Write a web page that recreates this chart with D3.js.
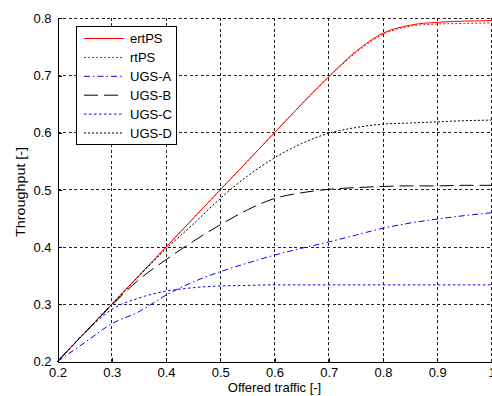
<!DOCTYPE html>
<html>
<head>
<meta charset="utf-8">
<script src="https://cdn.jsdelivr.net/npm/d3@7"></script>
<style>
  html, body { margin: 0; padding: 0; background: #fff; }
  svg { display: block; font-family: "Liberation Sans", Arial, sans-serif; }
</style>
</head>
<body>
<svg id="chart" width="492" height="396"></svg>
<script>
// ---- data ----
const offered = [0.2,0.25,0.3,0.35,0.4,0.45,0.5,0.55,0.6,0.65,0.7,0.75,0.8,0.85,0.9,0.95,1.0];
const ertPS = [0.2,0.25,0.3,0.35,0.4,0.45,0.5,0.55,0.6,0.65,0.698,0.742,0.774,0.788,0.793,0.795,0.796];
const rtPS  = [0.2,0.25,0.3,0.35,0.4,0.45,0.5,0.55,0.6,0.65,0.697,0.740,0.772,0.786,0.790,0.791,0.792];
const ugsA  = [0.2,0.233,0.266,0.287,0.316,0.339,0.357,0.372,0.386,0.398,0.409,0.421,0.433,0.442,0.449,0.455,0.46];
const ugsB  = [0.2,0.25,0.298,0.343,0.378,0.41,0.439,0.465,0.485,0.495,0.501,0.504,0.506,0.507,0.507,0.508,0.508];
const ugsC  = [0.2,0.25,0.291,0.311,0.323,0.329,0.332,0.333,0.334,0.334,0.334,0.334,0.334,0.334,0.334,0.334,0.334];
const ugsD  = [0.2,0.25,0.3,0.349,0.397,0.44,0.485,0.524,0.556,0.581,0.599,0.609,0.615,0.617,0.619,0.621,0.622];
const seriesNames = ["ertPS","rtPS","UGS-A","UGS-B","UGS-C","UGS-D"];
const xTicks = [0.2,0.3,0.4,0.5,0.6,0.7,0.8,0.9,1.0];
const xTickLabels = ["0.2","0.3","0.4","0.5","0.6","0.7","0.8","0.9","1"];
const yTicks = [0.2,0.3,0.4,0.5,0.6,0.7,0.8];
const yTickLabels = ["0.2","0.3","0.4","0.5","0.6","0.7","0.8"];

const seriesValues = [ertPS, rtPS, ugsA, ugsB, ugsC, ugsD];
const styles = [
  {color:"#ff0000", dash:null},
  {color:"#ff0000", dash:"2,2"},
  {color:"#0000ff", dash:"6,3,1.5,3"},
  {color:"#000000", dash:"14,6"},
  {color:"#0000ff", dash:"2.5,2.5"},
  {color:"#000000", dash:"2,2"}
];

const svg = d3.select("#chart");
const L = 57.5, R = 491.5, T = 18.3, B = 361.5;
const x = d3.scaleLinear().domain([0.2,1.0]).range([L,R]);
const y = d3.scaleLinear().domain([0.2,0.8]).range([B,T]);

// grid
const grid = svg.append("g").attr("stroke","#222").attr("stroke-width",1)
  .attr("stroke-dasharray","3,2.5").attr("shape-rendering","crispEdges");
grid.selectAll("line.v").data(xTicks.slice(1)).enter().append("line")
  .attr("x1",d=>x(d)).attr("x2",d=>x(d)).attr("y1",B).attr("y2",T);
grid.selectAll("line.h").data(yTicks.slice(1)).enter().append("line")
  .attr("x1",L).attr("x2",R).attr("y1",d=>y(d)).attr("y2",d=>y(d));

// axes
const xAxis = d3.axisBottom(x).tickValues(xTicks)
  .tickFormat((d,i)=>xTickLabels[i]).tickSizeInner(-4).tickSizeOuter(0).tickPadding(6);
const yAxis = d3.axisLeft(y).tickValues(yTicks)
  .tickFormat((d,i)=>yTickLabels[i]).tickSizeInner(-4).tickSizeOuter(0).tickPadding(6);

const gx = svg.append("g").attr("transform",`translate(0,${B})`).call(xAxis);
const gy = svg.append("g").attr("transform",`translate(${L},0)`).call(yAxis);
[gx,gy].forEach(g=>{
  g.attr("font-family","'Liberation Sans', Arial, sans-serif").attr("font-size",13);
  g.selectAll("path.domain").attr("stroke","#000").attr("shape-rendering","crispEdges");
  g.selectAll(".tick line").attr("stroke","#000").attr("shape-rendering","crispEdges");
  g.selectAll(".tick text").attr("fill","#000");
});

// lines
const line = d3.line().x((d,i)=>x(offered[i])).y(d=>y(d)).curve(d3.curveMonotoneX);
const gl = svg.append("g");
seriesValues.forEach((vals,k)=>{
  gl.append("path").datum(vals)
    .attr("d",line).attr("fill","none")
    .attr("stroke",styles[k].color).attr("stroke-width",1)
    .attr("stroke-dasharray",styles[k].dash);
});

// labels
svg.append("text").attr("x",(L+R)/2).attr("y",392).attr("text-anchor","middle")
  .attr("font-size",13).attr("fill","#000").text("Offered traffic [-]");
svg.append("text").attr("transform",`translate(25,${(T+B)/2+2}) rotate(-90)`)
  .attr("text-anchor","middle").attr("font-size",13).attr("fill","#000")
  .attr("textLength",90).attr("lengthAdjust","spacingAndGlyphs")
  .text("Throughput [-]");

// legend
const lg = svg.append("g");
lg.append("rect").attr("x",76.5).attr("y",26.5).attr("width",99.5).attr("height",117.5)
  .attr("fill","#fff").attr("stroke","#000").attr("stroke-width",1).attr("shape-rendering","crispEdges");
seriesNames.forEach((name,k)=>{
  const cy = 38.5 + k*18.9;
  lg.append("line").attr("x1",84).attr("x2",124).attr("y1",cy).attr("y2",cy)
    .attr("stroke",styles[k].color).attr("stroke-width",1).attr("stroke-dasharray",styles[k].dash);
  lg.append("text").attr("x",130).attr("y",cy+4.6).attr("font-size",13).attr("fill","#000").text(name);
});
</script>
</body>
</html>
